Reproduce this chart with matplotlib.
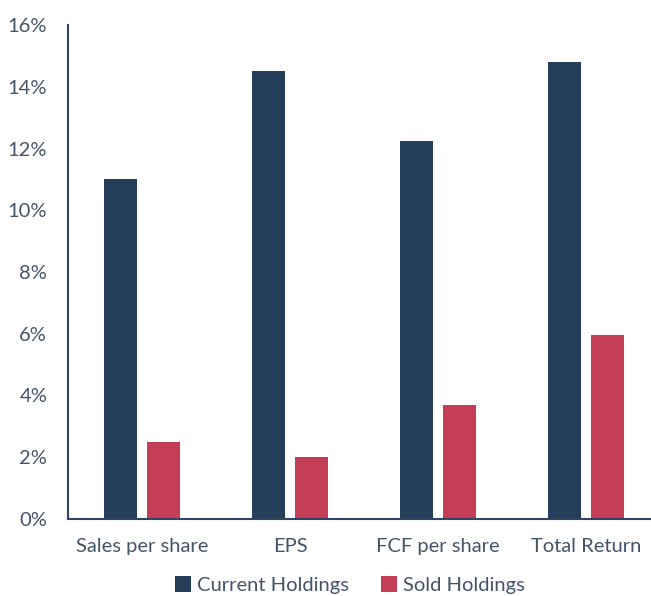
import numpy as np
import matplotlib.pyplot as plt

# Data (percent)
categories = ['Sales per share', 'EPS', 'FCF per share', 'Total Return']
current_holdings = [11.0, 14.5, 12.25, 14.8]
sold_holdings = [2.5, 2.0, 3.7, 5.95]
y_ticks = [0, 2, 4, 6, 8, 10, 12, 14, 16]

navy = '#253E5A'
red = '#C43E58'
text_col = '#44546A'

plt.rcParams['font.family'] = ['Lato', 'DejaVu Sans']

fig = plt.figure(figsize=(6.51, 5.96), dpi=100)
# axes runs a bit past the right edge like the original
ax = fig.add_axes([68 / 651, 1 - 519 / 596, 592 / 651, 494 / 596])

x = np.arange(len(categories))
w = 0.223
off = 0.142
ax.bar(x - off, current_holdings, w, color=navy, label='Current Holdings')
ax.bar(x + off, sold_holdings, w, color=red, label='Sold Holdings')

ax.set_xlim(-0.5, len(categories) - 0.5)
ax.set_ylim(0, 16)
ax.set_yticks(y_ticks)
ax.set_yticklabels([f'{t}%' for t in y_ticks])
ax.set_xticks(x)
ax.set_xticklabels(categories)
ax.tick_params(axis='both', length=0, labelsize=14.5, colors=text_col)
ax.tick_params(axis='y', pad=15)
ax.tick_params(axis='x', pad=14)

for s in ['top', 'right']:
    ax.spines[s].set_visible(False)
for s in ['left', 'bottom']:
    ax.spines[s].set_color('#2F4560')
    ax.spines[s].set_linewidth(1.5)

leg = fig.legend(loc='center', bbox_to_anchor=(350 / 651, 1 - 585 / 596), ncol=2,
                 frameon=False, fontsize=14.5, handlelength=0.8, handleheight=0.8,
                 handletextpad=0.3, columnspacing=1.6)
for t in leg.get_texts():
    t.set_color(text_col)

fig.savefig('out.png', dpi=100)
